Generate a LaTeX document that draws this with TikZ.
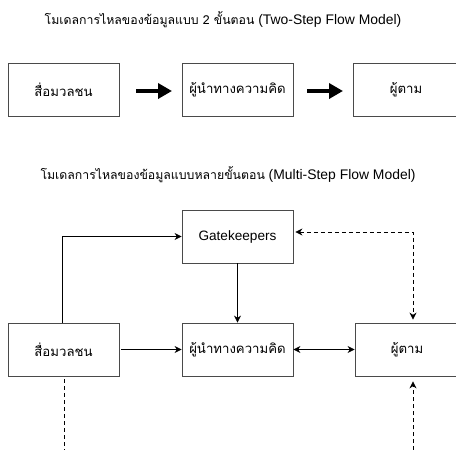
\documentclass[tikz,border=0pt]{standalone}
\usepackage{fontspec}
\setmainfont{Liberation Sans}
\newfontfamily\thaifont[Script=Thai]{Loma}
\usetikzlibrary{arrows.meta}
\definecolor{boxline}{HTML}{4A4A4A}
\begin{document}
\begin{tikzpicture}[x=1pt,y=-1pt,
  flowbox/.style={draw=boxline,line width=0.8pt,minimum width=111pt,minimum height=53pt,
    inner sep=0pt,font=\thaifont\fontsize{13.2}{16}\selectfont},
  heading/.style={font=\fontsize{13.9}{16}\selectfont,inner sep=0pt},
  thaihead/.style={},
  bigarrow/.style={line width=3.8pt,-{Triangle[length=14pt,width=15pt]}},
  link/.style={line width=0.8pt,-{Stealth[length=7pt,width=7pt]}},
  dlink/.style={line width=0.8pt,dash pattern=on 4pt off 3pt},
]
\useasboundingbox (0,0) rectangle (456,450);

% Two-step flow model
\node[heading] (t1) at (223,20) {{\thaifont\fontsize{12.3}{16}\selectfont โมเดลการไหลของข้อมูลแบบ 2 ขั้นตอน} (Two-Step Flow Model)};
\node[flowbox] (a1) at (63.5,89.5) {สื่อมวลชน};
\node[flowbox] (a2) at (237.5,89.5) {ผู้นำทางความคิด};
\node[flowbox,minimum width=106pt] (a3) at (406,89.5) {ผู้ตาม};
\coordinate (a1e) at (136,91);
\coordinate (a2w) at (172,91);
\coordinate (a2e) at (307,91);
\coordinate (a3w) at (343,91);
\draw[bigarrow] (a1e) -- (a2w);
\draw[bigarrow] (a2e) -- (a3w);

% Multi-step flow model
\node[heading] (t2) at (228,175) {{\thaifont\fontsize{12.3}{16}\selectfont โมเดลการไหลของข้อมูลแบบหลายขั้นตอน} (Multi-Step Flow Model)};
\node[flowbox,font=\fontsize{13.6}{16}\selectfont] (g) at (237.5,236.5) {Gatekeepers};
\node[flowbox] (b1) at (63.5,349.5) {สื่อมวลชน};
\node[flowbox] (b2) at (237.5,349.5) {ผู้นำทางความคิด};
\node[flowbox,minimum width=104pt] (b3) at (407,349.5) {ผู้ตาม};

\draw[link] (b1.north -| 62,0) |- (g.west);
\draw[link] (g.south) -- (b2.north);
\draw[link,shorten <=2pt] (b1.east) -- (b2.west);
\draw[line width=0.8pt,{Stealth[length=7pt,width=7pt]}-{Stealth[length=7pt,width=7pt]}] (b2.east) -- (b3.west);

\coordinate (corner) at (413,232);
\draw[dlink,{Stealth[length=7pt,width=7pt]}-{Stealth[length=7pt,width=7pt]},shorten <=2pt,shorten >=3pt]
  (g.east |- corner) -- (corner) -- (b3.north -| corner);

\coordinate (srcleft) at (64,450);
\draw[dlink,shorten <=3pt] (b1.south -| srcleft) -- (srcleft);

\coordinate (srcright) at (413,450);
\draw[dlink,-{Stealth[length=7pt,width=7pt]},shorten >=5pt] (srcright) -- (b3.south -| srcright);
\end{tikzpicture}
\end{document}
